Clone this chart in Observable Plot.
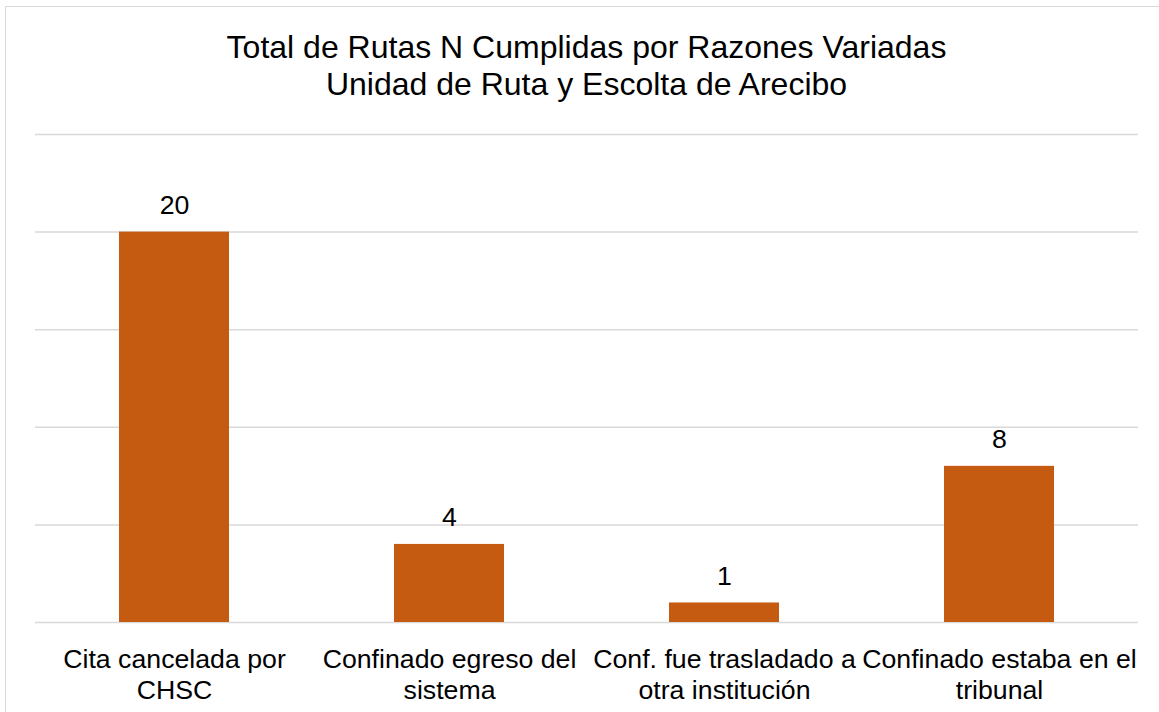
<!DOCTYPE html>
<html>
<head>
<meta charset="utf-8">
<script src="https://cdn.jsdelivr.net/npm/d3@7"></script>
<script src="https://cdn.jsdelivr.net/npm/@observablehq/plot@0.6"></script>
<style>
  html, body { margin: 0; padding: 0; background: #fff; overflow: hidden; }
  #wrap { position: relative; width: 1159px; height: 712px; overflow: hidden; font-family: "Liberation Sans", Arial, sans-serif; }
  #frame { position: absolute; left: 5px; top: 6px; width: 2000px; height: 2000px; border: 1.5px solid #d9d9d9; box-sizing: border-box; }
  #title { position: absolute; left: 7px; top: 29px; width: 1159px; text-align: center; font-size: 32px; line-height: 37px; color: #000; }
  #chart { position: absolute; left: 0; top: 0; }
</style>
</head>
<body>
<div id="wrap">
  <div id="frame"></div>
  <div id="chart"></div>
  <div id="title">Total de Rutas N Cumplidas por Razones Variadas<br>Unidad de Ruta y Escolta de Arecibo</div>
</div>
<script>
const categories = [
  "Cita cancelada por CHSC",
  "Confinado egreso del sistema",
  "Conf. fue trasladado a otra institución",
  "Confinado estaba en el tribunal"
];
const values = [20, 4, 1, 8];
const tickLabels = [
  "Cita cancelada por\nCHSC",
  "Confinado egreso del\nsistema",
  "Conf. fue trasladado a\notra institución",
  "Confinado estaba en el\ntribunal"
];
const yTicks = [0, 5, 10, 15, 20, 25];

const data = categories.map((c, i) => ({category: c, value: values[i]}));
const labelFor = new Map(categories.map((c, i) => [c, tickLabels[i]]));

const chart = Plot.plot({
  width: 1159,
  height: 712,
  marginLeft: 35,
  marginRight: 21,
  marginTop: 134,
  marginBottom: 90,
  style: {fontFamily: "'Liberation Sans', Arial, sans-serif", background: "transparent", color: "#000"},
  x: {domain: categories, paddingInner: 0.6, paddingOuter: 0.3, label: null},
  y: {domain: [0, 25], label: null, axis: null},
  marks: [
    Plot.gridY(yTicks, {stroke: "#d9d9d9", strokeOpacity: 1, strokeWidth: 1.5}),
    Plot.barY(data, {x: "category", y: "value", fill: "#c55a11"}),
    Plot.text(data, {x: "category", y: "value", text: d => String(d.value), lineAnchor: "bottom", dy: -18, fontSize: 26.7, fill: "#000"}),
    Plot.axisX({tickSize: 0, tickPadding: 23, fontSize: 26.7, lineHeight: 1.17, tickFormat: d => labelFor.get(d), fill: "#000", label: null})
  ]
});
document.getElementById("chart").appendChild(chart);
</script>
</body>
</html>
